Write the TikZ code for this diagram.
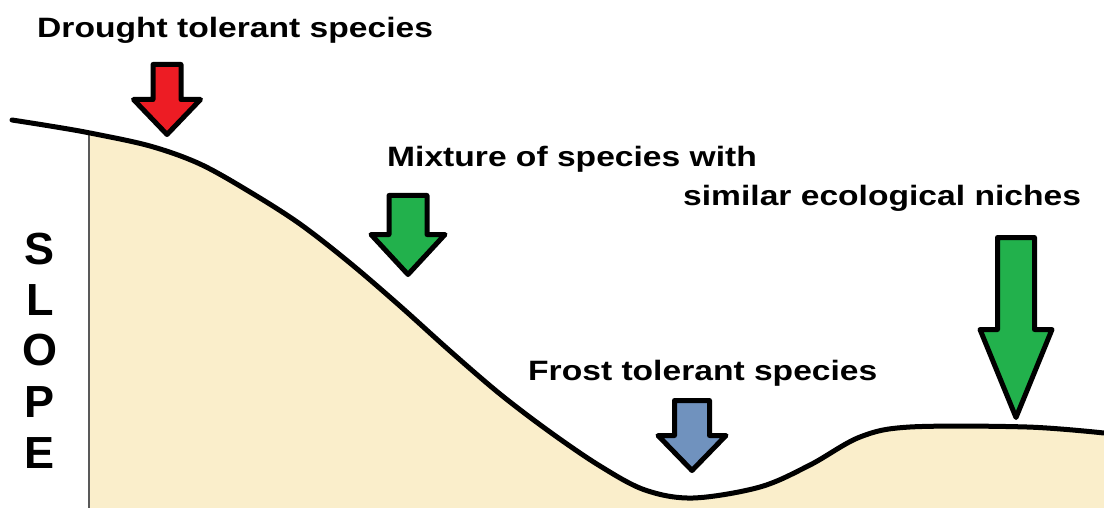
\documentclass[tikz,border=0pt]{standalone}
\usepackage{fontspec}
\setmainfont{Liberation Sans}
\newfontfamily\labfont[FakeStretch=1.2]{Liberation Sans}
\definecolor{ground}{RGB}{250,238,203}
\definecolor{arrred}{RGB}{237,28,36}
\definecolor{arrgreen}{RGB}{34,177,76}
\definecolor{arrblue}{RGB}{112,146,190}
\newcommand\downarr[7]{%
  \draw[arr, fill=#1] (#2-#6,#3) -- (#2+#6,#3) -- (#2+#6,#4) -- (#2+#7,#4)
    -- (#2,#5) -- (#2-#7,#4) -- (#2-#6,#4) -- cycle;}
\begin{document}
\begin{tikzpicture}[x=1pt,y=-1pt,
  lab/.style={font=\labfont\bfseries\fontsize{28}{30}\selectfont, inner sep=0pt, anchor=base west},
  slopeletter/.style={font=\bfseries\fontsize{45}{45}\selectfont, inner sep=0pt, anchor=base},
  arr/.style={draw=black, line width=5pt, line join=round},
  ridge/.style={draw=black, line width=5pt, line cap=round}]
\useasboundingbox (0,0) rectangle (1104,508);
\fill[white] (0,0) rectangle (1104,508);
% ground fill
\begin{scope}
  \clip (89,0) rectangle (1104,508);
  \fill[ground] plot[smooth, tension=0.55] coordinates {(12,120) (50,126) (90,133) (150,146) (200,164) (250,192) (300,224) (350,263) (400,306) (450,351) (500,394) (550,432) (600,466) (645,490) (693,498) (760,487) (810,465) (860,437) (910,427) (1027,427) (1104,433)} -- (1104,508) -- (0,508) -- cycle;
\end{scope}
\draw[line width=1.5pt, black!65] (89,134) -- (89,508);
% surface line
\draw[ridge] plot[smooth, tension=0.55] coordinates {(12,120) (50,126) (90,133) (150,146) (200,164) (250,192) (300,224) (350,263) (400,306) (450,351) (500,394) (550,432) (600,466) (645,490) (693,498) (760,487) (810,465) (860,437) (910,427) (1027,427) (1104,433)};
% arrows
\downarr{arrred}{167}{64.5}{99.5}{134.5}{14}{33.5}
\downarr{arrgreen}{408}{195.5}{234.5}{274.5}{19}{37}
\downarr{arrblue}{692}{400.5}{435.5}{470.5}{17.5}{34}
\downarr{arrgreen}{1016}{237.5}{329.5}{417.5}{18.5}{36}
% labels
\node[lab] (drought) at (37,38) {Drought tolerant species};
\node[lab] (mixture) at (387,167) {Mixture of species with};
\node[lab] (similar) at (683,205) {similar ecological niches};
\node[lab] (frost) at (528,380) {Frost tolerant species};
% SLOPE
\node[slopeletter] (s) at (40,265) {S};
\node[slopeletter] (l) at (40,315) {L};
\node[slopeletter] (o) at (40,365) {O};
\node[slopeletter] (p) at (40,417) {P};
\node[slopeletter] (e) at (40,468) {E};
\end{tikzpicture}
\end{document}
